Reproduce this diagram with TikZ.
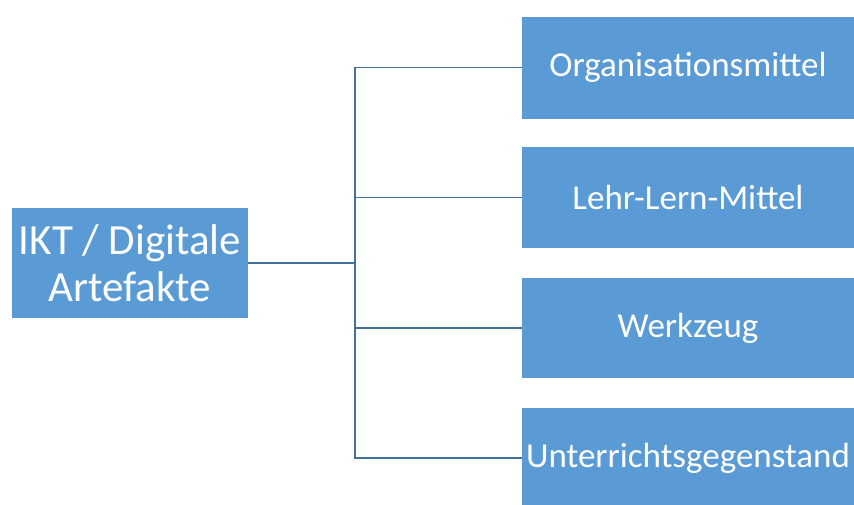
\documentclass[tikz,border=0pt]{standalone}
\usepackage{fontspec}
\setmainfont{Carlito}
\definecolor{boxblue}{HTML}{5B9BD5}
\definecolor{lineblue}{HTML}{41719C}
\begin{document}
\begin{tikzpicture}[x=1pt,y=-1pt,
  box/.style={fill=boxblue,draw=none,text=white,inner sep=0pt,align=center},
  rbox/.style={box,minimum width=332pt,font=\fontsize{35}{40}\selectfont},
  conn/.style={draw=lineblue,line width=1.1pt}]
\useasboundingbox (0,0) rectangle (854,504);
\node[box,minimum width=236pt,minimum height=110pt,font=\fontsize{43}{47}\selectfont] (root) at (130,263) {IKT / Digitale\\Artefakte};
\node[rbox,minimum height=102pt] (a) at (688,67.5) {Organisationsmittel};
\node[rbox,minimum height=101pt] (b) at (688,197.5) {Lehr-Lern-Mittel};
\node[rbox,minimum height=100pt] (c) at (688,328) {Werkzeug};
\node[rbox,minimum height=100pt] (d) at (688,458) {Unterrichtsgegenstand};
\coordinate (j) at (355,263);
\draw[conn] (root.east) -- (j);
\draw[conn] (a.west) -| (j);
\draw[conn] (b.west) -| (j);
\draw[conn] (c.west) -| (j);
\draw[conn] (d.west) -| (j);
\end{tikzpicture}
\end{document}
